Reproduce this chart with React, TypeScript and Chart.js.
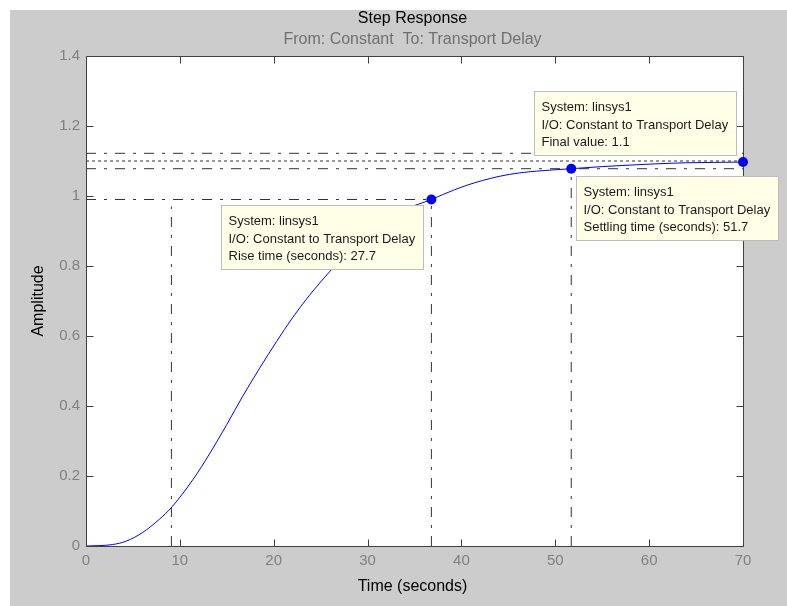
import React, { useEffect, useRef } from 'react';
import { Chart, registerables } from 'chart.js';

Chart.register(...registerables);

// ---- data ----
const TIME = [0, 2.8, 4.3, 6, 7.8, 9.1, 11.4, 13.2, 15, 16.7, 18.5, 20.3, 22, 23.8, 26, 28, 30, 32, 34, 36.8, 38, 40.5, 44, 46.2, 48, 51.7, 55, 57, 60, 64, 67, 70];
const AMPLITUDE = [0, 0.004, 0.014, 0.038, 0.076, 0.11, 0.19, 0.265, 0.347, 0.428, 0.508, 0.584, 0.652, 0.716, 0.785, 0.843, 0.893, 0.932, 0.962, 0.99, 1.004, 1.03, 1.056, 1.066, 1.071, 1.078, 1.084, 1.087, 1.091, 1.095, 1.096, 1.097];

const MARKER_TIME = [36.8, 51.7, 70];
const MARKER_AMPLITUDE = [0.99, 1.078, 1.097];

const FINAL_VALUE = 1.1;
const SETTLE_HIGH = 1.122;
const SETTLE_LOW = 1.078;
const RISE_START = 9.1;
const RISE_START_TOP = 0.97;
const RISE_END = 36.8;
const RISE_LEVEL = 0.99;
const SETTLING_TIME = 51.7;

const X_MIN = 0;
const X_MAX = 70;
const X_STEP = 10;
const Y_MIN = 0;
const Y_MAX = 1.4;
const Y_STEP = 0.2;

const TITLE = 'Step Response';
const SUBTITLE = 'From: Constant  To: Transport Delay';
const X_TITLE = 'Time (seconds)';
const Y_TITLE = 'Amplitude';

const TIP_RISE = ['System: linsys1', 'I/O: Constant to Transport Delay', 'Rise time (seconds): 27.7'];
const TIP_FINAL = ['System: linsys1', 'I/O: Constant to Transport Delay', 'Final value: 1.1'];
const TIP_SETTLE = ['System: linsys1', 'I/O: Constant to Transport Delay', 'Settling time (seconds): 51.7'];

const FONT = "'Liberation Sans', Arial, Helvetica, sans-serif";
const DASH_DOT = [10, 8, 3, 8];
const DOTTED = [3, 3];
const GUIDE_COLOR = '#333333';

function guide(points: { x: number; y: number }[], dash: number[]) {
  return {
    data: points,
    showLine: true,
    borderColor: GUIDE_COLOR,
    borderWidth: 1,
    borderDash: dash,
    pointRadius: 0,
    fill: false,
    order: 3,
  };
}

const framePlugin = {
  id: 'frame',
  beforeDraw(chart: any) {
    const { ctx, width, height, chartArea: a } = chart;
    ctx.save();
    ctx.fillStyle = '#ffffff';
    ctx.fillRect(0, 0, width, height);
    ctx.fillStyle = '#cccccc';
    ctx.fillRect(10, 10, width - 10, height - 10);
    ctx.fillStyle = '#ffffff';
    ctx.fillRect(a.left, a.top, a.right - a.left, a.bottom - a.top);
    ctx.restore();
  },
  beforeDatasetsDraw(chart: any) {
    const { ctx, chartArea: a, scales } = chart;
    const xs = scales.x;
    const ys = scales.y;
    const L = Math.round(a.left) + 0.5;
    const R = Math.round(a.right) + 0.5;
    const T = Math.round(a.top) + 0.5;
    const B = Math.round(a.bottom) + 0.5;
    const TL = 7;
    ctx.save();
    ctx.strokeStyle = '#404040';
    ctx.lineWidth = 1;
    ctx.beginPath();
    ctx.rect(L, T, R - L, B - T);
    xs.ticks.forEach((t: any) => {
      const px = Math.round(xs.getPixelForValue(t.value)) + 0.5;
      ctx.moveTo(px, B);
      ctx.lineTo(px, B - TL);
      ctx.moveTo(px, T);
      ctx.lineTo(px, T + TL);
    });
    ys.ticks.forEach((t: any) => {
      const py = Math.round(ys.getPixelForValue(t.value)) + 0.5;
      ctx.moveTo(L, py);
      ctx.lineTo(L + TL, py);
      ctx.moveTo(R, py);
      ctx.lineTo(R - TL, py);
    });
    ctx.stroke();
    ctx.restore();
  },
  afterDatasetsDraw(chart: any) {
    const { ctx, scales } = chart;
    const xs = scales.x;
    const ys = scales.y;
    const tips = [
      { lines: TIP_RISE, t: MARKER_TIME[0], v: MARKER_AMPLITUDE[0], corner: 'tr', dx: -8, dy: 6 },
      { lines: TIP_SETTLE, t: MARKER_TIME[1], v: MARKER_AMPLITUDE[1], corner: 'tl', dx: 5, dy: 7 },
      { lines: TIP_FINAL, t: MARKER_TIME[2], v: MARKER_AMPLITUDE[2], corner: 'br', dx: -7, dy: -7 },
    ];
    ctx.save();
    ctx.font = `13px ${FONT}`;
    tips.forEach((tip) => {
      const ax = xs.getPixelForValue(tip.t);
      const ay = ys.getPixelForValue(tip.v);
      const w = Math.ceil(Math.max(...tip.lines.map((l) => ctx.measureText(l).width))) + 15;
      const h = 64;
      let left = tip.corner.endsWith('r') ? ax + tip.dx - w : ax + tip.dx;
      let top = tip.corner.startsWith('b') ? ay + tip.dy - h : ay + tip.dy;
      left = Math.round(left) + 0.5;
      top = Math.round(top) + 0.5;
      ctx.fillStyle = '#ffffe8';
      ctx.fillRect(left, top, w, h);
      ctx.strokeStyle = '#bdbdbd';
      ctx.lineWidth = 1;
      ctx.strokeRect(left, top, w, h);
      ctx.fillStyle = '#1a1a1a';
      ctx.textAlign = 'left';
      ctx.textBaseline = 'middle';
      tip.lines.forEach((line, i) => {
        ctx.fillText(line, left + 7, top + 16 + i * 17.5);
      });
    });
    ctx.restore();
  },
  afterDraw(chart: any) {
    const { ctx, chartArea: a } = chart;
    const cx = (a.left + a.right) / 2 - 2;
    const cy = (a.top + a.bottom) / 2;
    ctx.save();
    ctx.font = `16px ${FONT}`;
    ctx.textAlign = 'center';
    ctx.textBaseline = 'alphabetic';
    ctx.fillStyle = '#000000';
    ctx.fillText(TITLE, cx, 23);
    ctx.fillStyle = '#707070';
    ctx.fillText(SUBTITLE, cx, 44);
    ctx.fillStyle = '#000000';
    ctx.fillText(X_TITLE, cx, 591);
    ctx.translate(43, cy);
    ctx.rotate(-Math.PI / 2);
    ctx.fillText(Y_TITLE, 0, 0);
    ctx.restore();
  },
};

const formatTick = (v: number) => String(Number(Number(v).toFixed(2)));

export default function App() {
  const ref = useRef<HTMLCanvasElement | null>(null);

  useEffect(() => {
    document.body.style.margin = '0';
    const canvas = ref.current;
    if (!canvas) return;
    const chart = new Chart(canvas, {
      type: 'scatter',
      data: {
        datasets: [
          {
            data: MARKER_TIME.map((t, i) => ({ x: t, y: MARKER_AMPLITUDE[i] })),
            showLine: false,
            pointRadius: 5,
            pointBackgroundColor: '#0000ff',
            pointBorderColor: '#0000ff',
            pointBorderWidth: 0,
            clip: false,
            order: 1,
          } as any,
          {
            data: TIME.map((t, i) => ({ x: t, y: AMPLITUDE[i] })),
            showLine: true,
            borderColor: '#0000ff',
            borderWidth: 1,
            pointRadius: 0,
            cubicInterpolationMode: 'monotone',
            fill: false,
            order: 2,
          } as any,
          guide([{ x: X_MIN, y: SETTLE_HIGH }, { x: X_MAX, y: SETTLE_HIGH }], DASH_DOT) as any,
          guide([{ x: X_MIN, y: FINAL_VALUE }, { x: X_MAX, y: FINAL_VALUE }], DOTTED) as any,
          guide([{ x: X_MIN, y: SETTLE_LOW }, { x: X_MAX, y: SETTLE_LOW }], DASH_DOT) as any,
          guide([{ x: X_MIN, y: RISE_LEVEL }, { x: RISE_END, y: RISE_LEVEL }], DASH_DOT) as any,
          guide([{ x: RISE_START, y: 0 }, { x: RISE_START, y: RISE_START_TOP }], DASH_DOT) as any,
          guide([{ x: RISE_END, y: 0 }, { x: RISE_END, y: RISE_LEVEL }], DASH_DOT) as any,
          guide([{ x: SETTLING_TIME, y: 0 }, { x: SETTLING_TIME, y: SETTLE_LOW }], DASH_DOT) as any,
        ],
      },
      options: {
        animation: false,
        responsive: false,
        events: [],
        layout: { padding: { top: 56, right: 44, left: 0, bottom: 0 } },
        plugins: {
          legend: { display: false },
          tooltip: { enabled: false },
          title: { display: false },
        },
        scales: {
          x: {
            type: 'linear',
            min: X_MIN,
            max: X_MAX,
            ticks: { stepSize: X_STEP, color: '#808080', font: { family: FONT, size: 15 }, padding: 6, maxRotation: 0, callback: formatTick },
            grid: { display: false, drawTicks: false },
            border: { display: false },
            afterFit(s: any) { s.height = 60; },
          },
          y: {
            type: 'linear',
            min: Y_MIN,
            max: Y_MAX,
            ticks: { stepSize: Y_STEP, color: '#808080', font: { family: FONT, size: 15 }, padding: 6, callback: formatTick },
            grid: { display: false, drawTicks: false },
            border: { display: false },
            afterFit(s: any) { s.width = 86; },
          },
        },
      } as any,
      plugins: [framePlugin],
    });
    return () => chart.destroy();
  }, []);

  return <canvas ref={ref} width={787} height={606} style={{ display: 'block' }} />;
}
